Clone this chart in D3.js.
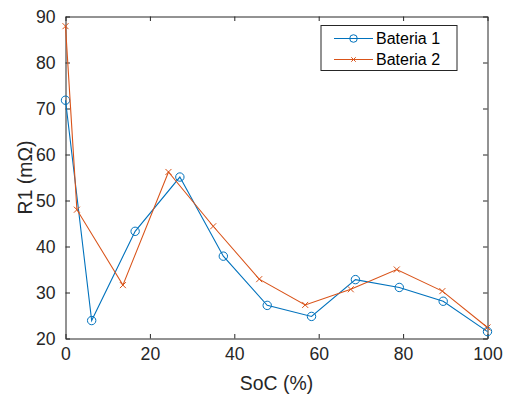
<!DOCTYPE html>
<html>
<head>
<meta charset="utf-8">
<script src="https://cdn.jsdelivr.net/npm/d3@7/dist/d3.min.js"></script>
<style>
  html, body { margin: 0; padding: 0; background: #fff; }
  svg { display: block; font-family: "Liberation Sans", Arial, Helvetica, sans-serif; }
</style>
</head>
<body>
<svg id="chart" width="505" height="401"></svg>
<script>
// Internal resistance R1 versus state of charge for two batteries
const soc1 = [0, 6.2, 16.5, 27.1, 37.4, 47.8, 58.3, 68.7, 79.1, 89.5, 100];
const r1Bat1 = [71.8, 23.9, 43.3, 55.1, 37.9, 27.2, 24.8, 32.8, 31.1, 28.1, 21.5];
const soc2 = [0, 2.7, 13.6, 24.4, 35.0, 45.9, 56.8, 67.6, 78.5, 89.3, 100];
const r1Bat2 = [87.9, 48.0, 31.6, 56.2, 44.4, 32.9, 27.3, 30.7, 35.0, 30.3, 22.4];
const seriesNames = ["Bateria 1", "Bateria 2"];
const xTicks = [0, 20, 40, 60, 80, 100];
const yTicks = [20, 30, 40, 50, 60, 70, 80, 90];

const colors = ["#0072BD", "#D95319"];
const axisColor = "#262626";

const svg = d3.select("#chart");
const plotLeft = 65.5, plotRight = 487.5, plotTop = 16.5, plotBottom = 338.5;

const x = d3.scaleLinear().domain([0, 100]).range([plotLeft, plotRight]);
const y = d3.scaleLinear().domain([20, 90]).range([plotBottom, plotTop]);

const tickFont = 17.6;

// Axes with inward ticks on all four sides
const axB = d3.axisBottom(x).tickValues(xTicks).tickSizeInner(-4.5).tickSizeOuter(0).tickPadding(9);
const axT = d3.axisTop(x).tickValues(xTicks).tickSizeInner(-4.5).tickSizeOuter(0).tickFormat("");
const axL = d3.axisLeft(y).tickValues(yTicks).tickSizeInner(-4.5).tickSizeOuter(0).tickPadding(10);
const axR = d3.axisRight(y).tickValues(yTicks).tickSizeInner(-4.5).tickSizeOuter(0).tickFormat("");

function style(g) {
  g.selectAll("path.domain").attr("stroke", axisColor).attr("stroke-width", 1);
  g.selectAll(".tick line").attr("stroke", axisColor).attr("stroke-width", 1);
  g.selectAll(".tick text").attr("fill", axisColor)
    .style("font-size", tickFont + "px")
    .style("font-family", '"Liberation Sans", Arial, sans-serif');
}

svg.append("g").attr("transform", `translate(0,${plotBottom})`).call(axB).call(style);
svg.append("g").attr("transform", `translate(0,${plotTop})`).call(axT).call(style);
svg.append("g").attr("transform", `translate(${plotLeft},0)`).call(axL).call(style);
svg.append("g").attr("transform", `translate(${plotRight},0)`).call(axR).call(style);

// Axis labels
svg.append("text")
  .attr("x", (plotLeft + plotRight) / 2).attr("y", 390)
  .attr("text-anchor", "middle")
  .attr("fill", axisColor)
  .style("font-size", "19.4px")
  .text("SoC (%)");

svg.append("text")
  .attr("transform", `translate(32,${(plotTop + plotBottom) / 2}) rotate(-90)`)
  .attr("text-anchor", "middle")
  .attr("fill", axisColor)
  .style("font-size", "19.4px")
  .text("R1 (mΩ)");

// Data series
const series = [
  { xs: soc1, ys: r1Bat1, color: colors[0], marker: "circle" },
  { xs: soc2, ys: r1Bat2, color: colors[1], marker: "cross" }
];

const line = d3.line().x(d => x(d[0])).y(d => y(d[1]));

function drawMarker(g, type, cx, cy, color, scale = 1) {
  if (type === "circle") {
    g.append("circle").attr("cx", cx).attr("cy", cy).attr("r", 4.2 * scale)
      .attr("fill", "none").attr("stroke", color).attr("stroke-width", 1);
  } else {
    const s = 3 * scale;
    g.append("path")
      .attr("d", `M${cx - s},${cy - s}L${cx + s},${cy + s}M${cx - s},${cy + s}L${cx + s},${cy - s}`)
      .attr("stroke", color).attr("stroke-width", 1).attr("fill", "none");
  }
}

const plot = svg.append("g");
series.forEach(s => {
  const pts = s.xs.map((v, i) => [v, s.ys[i]]);
  plot.append("path").datum(pts)
    .attr("d", line)
    .attr("fill", "none")
    .attr("stroke", s.color)
    .attr("stroke-width", 1.1);
  pts.forEach(p => drawMarker(plot, s.marker, x(p[0]), y(p[1]), s.color));
});

// Legend
const lg = svg.append("g");
lg.append("rect")
  .attr("x", 321).attr("y", 25.5).attr("width", 136).attr("height", 45)
  .attr("fill", "#fff").attr("stroke", axisColor).attr("stroke-width", 1);
seriesNames.forEach((name, i) => {
  const yy = 38.5 + i * 21;
  lg.append("line").attr("x1", 334).attr("x2", 373).attr("y1", yy).attr("y2", yy)
    .attr("stroke", series[i].color).attr("stroke-width", 1.1);
  drawMarker(lg, series[i].marker, 353.5, yy, series[i].color, i === 0 ? 0.9 : 0.75);
  lg.append("text").attr("x", 376).attr("y", yy)
    .attr("dy", "0.35em")
    .attr("fill", "#000")
    .style("font-size", "16px")
    .text(name);
});
</script>
</body>
</html>
